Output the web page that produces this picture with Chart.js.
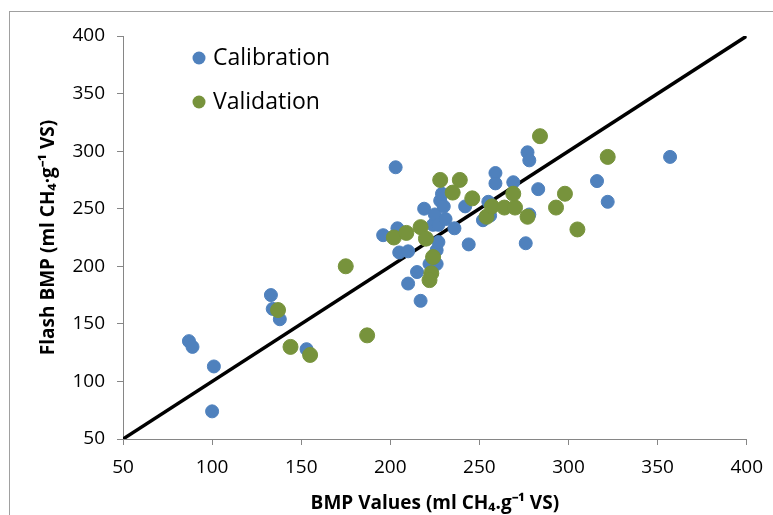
<!DOCTYPE html>
<html>
<head>
<meta charset="utf-8">
<script src="https://cdn.jsdelivr.net/npm/chart.js@4.4.1/dist/chart.umd.min.js"></script>
<style>
  html, body { margin: 0; padding: 0; background: #fff; }
  #frame {
    position: absolute; left: 9px; top: 11px; width: 764px; height: 504px;
    border-left: 1px solid #a0a0a0; border-top: 1px solid #a0a0a0;
  }
  #wrap { position: absolute; left: 0; top: 0; width: 764px; height: 504px; }
</style>
</head>
<body>
<div id="frame"><div id="wrap"><canvas id="bmpChart"></canvas></div></div>
<script>
// Data
var seriesNames = ['Calibration', 'Validation'];

var calX = [87, 89, 101, 100, 133, 134, 138, 153, 196, 203, 204, 205, 210, 210, 215, 217, 219, 222,
  224, 225, 226, 226, 227, 227, 228, 229, 230, 231, 236, 242, 244, 252, 255, 256, 259, 259,
  269, 277, 278, 276, 278, 283, 316, 322, 357];
var calY = [135, 130, 113, 74, 175, 163, 154, 128, 227, 286, 233, 212, 213, 185, 195, 170, 250, 202,
  236, 245, 202, 214, 236, 221, 257, 263, 252, 241, 233, 252, 219, 240, 256, 244, 281, 272,
  273, 299, 292, 220, 245, 267, 274, 256, 295];

var valX = [137, 144, 155, 175, 187, 202, 209, 217, 220, 224, 223, 222, 228, 239, 235, 246, 254,
  257, 264, 269, 270, 277, 284, 293, 298, 305, 322];
var valY = [162, 130, 123, 200, 140, 225, 229, 234, 224, 208, 194, 188, 275, 275, 264, 259, 243,
  252, 251, 263, 251, 243, 313, 251, 263, 232, 295];

// 1:1 line
var lineX = [50, 400];
var lineY = [50, 400];

var axisTicks = [50, 100, 150, 200, 250, 300, 350, 400];

var calColor = '#4F81BD';
var valColor = '#77933C';

function toPoints(xs, ys) {
  return xs.map(function (x, i) { return { x: x, y: ys[i] }; });
}

// Legend drawn inside the plot area, like the original
var insideLegend = {
  id: 'insideLegend',
  afterDraw: function (chart) {
    var ctx = chart.ctx;
    var area = chart.chartArea;
    var colors = [calColor, valColor];
    ctx.save();
    ctx.font = '23px "Open Sans"';
    ctx.textBaseline = 'middle';
    for (var i = 0; i < seriesNames.length; i++) {
      var cy = area.top + 22 + i * 44;
      var cx = area.left + 76;
      ctx.beginPath();
      ctx.arc(cx, cy, 6.5, 0, Math.PI * 2);
      ctx.fillStyle = colors[i];
      ctx.fill();
      ctx.fillStyle = '#000';
      ctx.fillText(seriesNames[i], cx + 14, cy);
    }
    ctx.restore();
  }
};

var ctx = document.getElementById('bmpChart').getContext('2d');

var myChart = new Chart(ctx, {
  type: 'scatter',
  data: {
    datasets: [{
      label: seriesNames[0],
      data: toPoints(calX, calY),
      backgroundColor: calColor,
      borderColor: calColor,
      pointRadius: 6.5,
      pointHoverRadius: 6.5,
      order: 2
    }, {
      label: seriesNames[1],
      data: toPoints(valX, valY),
      backgroundColor: valColor,
      borderColor: valColor,
      pointRadius: 7.5,
      pointHoverRadius: 7.5,
      order: 1
    }, {
      type: 'line',
      label: '1:1',
      data: toPoints(lineX, lineY),
      borderColor: '#000',
      borderWidth: 3.5,
      pointRadius: 0,
      fill: false,
      order: 3
    }]
  },
  options: {
    responsive: true,
    maintainAspectRatio: false,
    animation: false,
    layout: { padding: { left: 0, top: 24, right: 25, bottom: 0 } },
    plugins: {
      legend: { display: false },
      tooltip: { enabled: false }
    },
    scales: {
      x: {
        type: 'linear',
        min: 50,
        max: 400,
        afterBuildTicks: function (scale) {
          scale.ticks = axisTicks.map(function (v) { return { value: v }; });
        },
        afterFit: function (scale) { scale.height = 77; },
        grid: { drawOnChartArea: false, drawTicks: true, tickLength: 6, color: '#868686' },
        border: { color: '#868686', width: 1 },
        ticks: { color: '#000', padding: 11, font: { family: 'Open Sans', size: 19 } },
        title: {
          display: true,
          text: 'BMP Values (ml CH\u2084.g\u207B\u00B9 VS)',
          color: '#000',
          font: { family: 'Open Sans', size: 19, weight: 'bold' },
          padding: { top: 0, bottom: 1 }
        }
      },
      y: {
        type: 'linear',
        min: 50,
        max: 400,
        afterBuildTicks: function (scale) {
          scale.ticks = axisTicks.map(function (v) { return { value: v }; });
        },
        afterFit: function (scale) { scale.width = 113; },
        grid: { drawOnChartArea: false, drawTicks: true, tickLength: 6, color: '#868686' },
        border: { color: '#868686', width: 1 },
        ticks: { color: '#000', padding: 12, font: { family: 'Open Sans', size: 19 } },
        title: {
          display: true,
          text: 'Flash BMP (ml CH\u2084\u00B7g\u207B\u00B9 VS)',
          color: '#000',
          font: { family: 'Open Sans', size: 19, weight: 'bold' },
          padding: { top: 27, bottom: 0 }
        }
      }
    }
  },
  plugins: [insideLegend]
});
</script>
</body>
</html>
